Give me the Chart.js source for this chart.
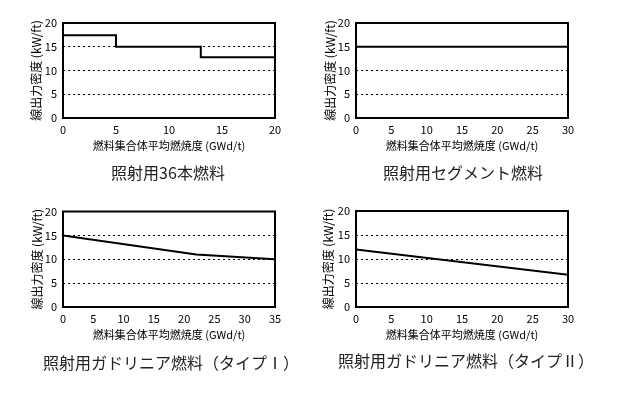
<!DOCTYPE html>
<html><head><meta charset="utf-8">
<script src="https://cdn.jsdelivr.net/npm/chart.js@4/dist/chart.umd.min.js"></script>
<style>
html,body{margin:0;padding:0;background:#fff;}
body{width:620px;height:394px;position:relative;overflow:hidden;font-family:"Noto Sans CJK JP",sans-serif;}
canvas{position:absolute;}
.cap{position:absolute;font-size:16px;color:#222;white-space:nowrap;transform:translate(-50%,-50%);line-height:1;}
</style></head>
<body>
<canvas id="c1" width="310" height="195" style="left:0;top:0;width:310px;height:195px"></canvas>
<canvas id="c2" width="320" height="195" style="left:300px;top:0;width:320px;height:195px"></canvas>
<canvas id="c3" width="310" height="199" style="left:0;top:195px;width:310px;height:199px"></canvas>
<canvas id="c4" width="320" height="199" style="left:300px;top:195px;width:320px;height:199px"></canvas>
<div class="cap" id="t1" style="left:168px;top:172px"></div>
<div class="cap" id="t2" style="left:463px;top:172px"></div>
<div class="cap" id="t3" style="left:171px;top:362px"></div>
<div class="cap" id="t4" style="left:466px;top:360px"></div>
<script>
// ---- data ----
const captions = ["照射用36本燃料", "照射用セグメント燃料", "照射用ガドリニア燃料（タイプⅠ）", "照射用ガドリニア燃料（タイプⅡ）"];
const xTitle = "燃料集合体平均燃焼度 (GWd/t)";
const yTitle = "線出力密度 (kW/ft)";
const yTicks = [0, 5, 10, 15, 20];

const burnup36 = [0, 5, 5, 13, 13, 20];
const lhgr36   = [17.4, 17.4, 15, 15, 12.8, 12.8];
const xMax36 = 20;

const burnupSeg = [0, 30];
const lhgrSeg   = [15, 15];
const xMaxSeg = 30;

const burnupGd1 = [0, 22, 35];
const lhgrGd1   = [15, 11, 10];
const xMaxGd1 = 35;

const burnupGd2 = [0, 30];
const lhgrGd2   = [12, 6.7];
const xMaxGd2 = 30;

// ---- rendering ----
const FONT = "'Noto Sans CJK JP', sans-serif";
const framePlugin = {
  id: 'frame',
  afterDatasetsDraw(chart) {
    const a = chart.chartArea, ctx = chart.ctx;
    ctx.save();
    ctx.strokeStyle = '#000';
    ctx.lineWidth = 2;
    ctx.strokeRect(a.left, a.top, a.right - a.left, a.bottom - a.top);
    ctx.restore();
  }
};

function makeChart(id, xs, ys, xMax, L) {
  const pts = xs.map((x, i) => ({x: x, y: ys[i]}));
  new Chart(document.getElementById(id), {
    type: 'line',
    data: { datasets: [{ data: pts, borderColor: '#000', borderWidth: 2, pointRadius: 0, fill: false, tension: 0 }] },
    plugins: [framePlugin],
    options: {
      responsive: false, animation: false,
      layout: { padding: { left: 0, top: L.top, right: L.right, bottom: L.bottom } },
      plugins: { legend: { display: false }, tooltip: { enabled: false } },
      scales: {
        x: {
          type: 'linear', min: 0, max: xMax,
          ticks: { stepSize: 5, padding: 5, color: '#000', font: { family: FONT, size: 11 }, maxRotation: 0 },
          grid: { display: false, drawTicks: false },
          border: { display: false },
          title: { display: true, text: xTitle, color: '#000', font: { family: FONT, size: 11 }, padding: { top: 0, bottom: 0 } },
          afterFit(s) { s.height = L.xh; }
        },
        y: {
          type: 'linear', min: 0, max: 20,
          afterBuildTicks(s) { s.ticks = yTicks.map(v => ({ value: v })); },
          ticks: { padding: 6, color: '#000', font: { family: FONT, size: 11 } },
          grid: {
            drawTicks: false, lineWidth: 1,
            color: ctx => (ctx.tick && (ctx.tick.value === 0 || ctx.tick.value === 20)) ? 'rgba(0,0,0,0)' : '#000'
          },
          border: { display: false, dash: [2, 3] },
          title: { display: true, text: yTitle, color: '#000', font: { family: FONT, size: 12 }, padding: { top: L.yt, bottom: 0 } },
          afterFit(s) { s.width = L.yw; }
        }
      }
    }
  });
}

makeChart('c1', burnup36, lhgr36, xMax36, { top: 23, right: 35, bottom: 43, xh: 34, yw: 63, yt: 28.8 });
makeChart('c2', burnupSeg, lhgrSeg, xMaxSeg, { top: 23, right: 52, bottom: 43, xh: 34, yw: 56, yt: 22.8 });
makeChart('c3', burnupGd1, lhgrGd1, xMaxGd1, { top: 16.5, right: 35, bottom: 53, xh: 34, yw: 63, yt: 29.8 });
makeChart('c4', burnupGd2, lhgrGd2, xMaxGd2, { top: 16, right: 52, bottom: 53, xh: 34, yw: 56, yt: 20.8 });

captions.forEach((t, i) => { document.getElementById('t' + (i + 1)).textContent = t; });
</script>
</body></html>
